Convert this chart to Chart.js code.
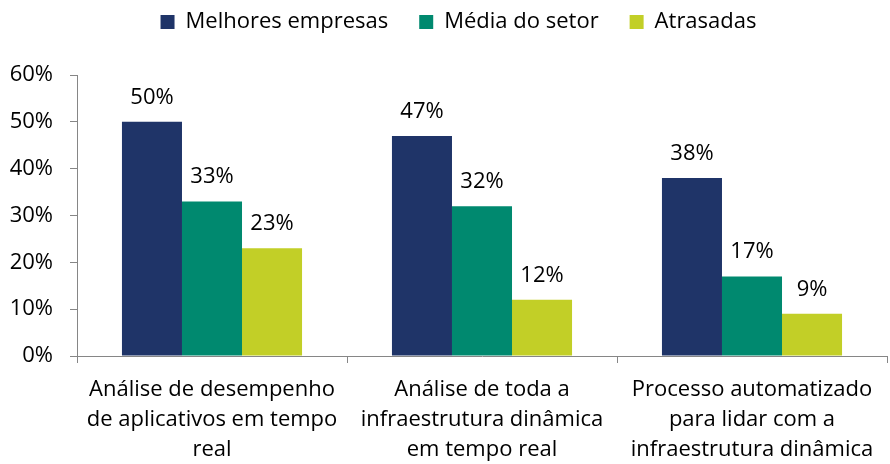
<!DOCTYPE html>
<html>
<head>
<meta charset="utf-8">
<script src="https://cdn.jsdelivr.net/npm/chart.js@4"></script>
<style>
  html, body { margin: 0; padding: 0; background: #fff; }
  #wrap { width: 890px; height: 464px; }
</style>
</head>
<body>
<div id="wrap"><canvas id="myChart" width="890" height="464"></canvas></div>
<script>
var categorias = [
    ['Análise de desempenho', 'de aplicativos em tempo', 'real'],
    ['Análise de toda a', 'infraestrutura dinâmica', 'em tempo real'],
    ['Processo automatizado', 'para lidar com a', 'infraestrutura dinâmica']
];
var melhores = [50, 47, 38];
var media = [33, 32, 17];
var atrasadas = [23, 12, 9];
var ticksY = [0, 10, 20, 30, 40, 50, 60];

var fonte = "'Open Sans', sans-serif";
var tamanho = 22;
var cinza = '#868686';

// rotulos de valor acima das barras
var rotulos = {
    id: 'rotulos',
    afterDatasetsDraw: function (chart) {
        var ctx = chart.ctx;
        ctx.save();
        ctx.font = tamanho + 'px ' + fonte;
        ctx.fillStyle = '#000';
        ctx.textAlign = 'center';
        ctx.textBaseline = 'alphabetic';
        chart.data.datasets.forEach(function (ds, i) {
            var meta = chart.getDatasetMeta(i);
            meta.data.forEach(function (bar, j) {
                ctx.fillText(ds.data[j] + '%', bar.x, bar.y - 18);
            });
        });
        ctx.restore();
    }
};

// legenda um pouco mais a direita e mais alta
var ajusteLegenda = {
    id: 'ajusteLegenda',
    afterLayout: function (chart) {
        var l = chart.legend;
        l.left += 15; l.right += 15;
        l.top -= 32; l.bottom -= 32;
    }
};

var ctx = document.getElementById('myChart').getContext('2d');
var grafico = new Chart(ctx, {
    type: 'bar',
    data: {
        labels: categorias,
        datasets: [
            { label: 'Melhores empresas', data: melhores, backgroundColor: '#1f3468' },
            { label: 'Média do setor', data: media, backgroundColor: '#00896f' },
            { label: 'Atrasadas', data: atrasadas, backgroundColor: '#c2cf27' }
        ]
    },
    options: {
        responsive: false,
        animation: false,
        events: [],
        layout: { padding: { left: 0, right: 3, top: 12, bottom: 0 } },
        datasets: {
            bar: { categoryPercentage: 0.667, barPercentage: 1.0 }
        },
        plugins: {
            legend: {
                position: 'top',
                labels: {
                    boxWidth: 14,
                    boxHeight: 14,
                    padding: 31,
                    color: '#000',
                    font: { family: fonte, size: tamanho }
                }
            },
            tooltip: { enabled: false }
        },
        scales: {
            x: {
                grid: { offset: true, drawOnChartArea: false, tickLength: 7, color: cinza },
                border: { color: cinza, width: 1 },
                ticks: { color: '#000', padding: 12, font: { family: fonte, size: tamanho, lineHeight: 1.36 } },
                afterFit: function (scale) { scale.height = 108; }
            },
            y: {
                min: 0,
                max: 60,
                afterBuildTicks: function (scale) {
                    scale.ticks = ticksY.map(function (v) { return { value: v }; });
                },
                grid: { drawOnChartArea: false, tickLength: 7, color: cinza },
                border: { color: cinza, width: 1 },
                ticks: {
                    color: '#000',
                    padding: 17,
                    font: { family: fonte, size: tamanho },
                    callback: function (v) { return v + '%'; }
                },
                afterFit: function (scale) { scale.width = 77; }
            }
        }
    },
    plugins: [rotulos, ajusteLegenda]
});
</script>
</body>
</html>
